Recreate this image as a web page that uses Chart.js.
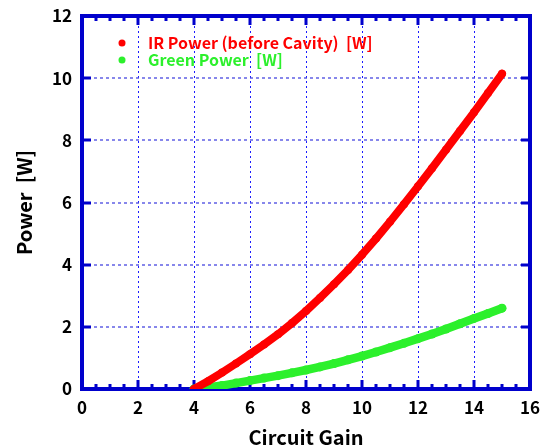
<!DOCTYPE html>
<html>
<head>
<meta charset="utf-8">
<script src="https://cdn.jsdelivr.net/npm/chart.js@4.4.1/dist/chart.umd.min.js"></script>
<style>
html,body{margin:0;padding:0;background:#fff;}
canvas{display:block;}
</style>
</head>
<body>
<canvas id="c" width="544" height="447"></canvas>
<script>
const gain = [4,4.5,5,5.5,6,6.5,7,7.5,8,8.5,9,9.5,10,10.5,11,11.5,12,12.5,13,13.5,14,14.5,15];
const irPower = [0,0.25,0.53,0.82,1.12,1.43,1.76,2.12,2.51,2.93,3.37,3.83,4.32,4.84,5.38,5.94,6.52,7.1,7.7,8.3,8.9,9.52,10.14];
const greenPower = [0,0.05,0.11,0.19,0.27,0.35,0.43,0.52,0.61,0.71,0.82,0.94,1.06,1.19,1.33,1.47,1.62,1.77,1.93,2.1,2.27,2.43,2.6];
const seriesLabels = ['IR Power (before Cavity)  [W]', 'Green Power  [W]'];
const seriesColors = ['#ff0000', '#2cf02c'];
const xTickValues = [0,2,4,6,8,10,12,14,16];
const yTickValues = [0,2,4,6,8,10,12];
const xTitle = 'Circuit Gain';
const yTitle = 'Power  [W]';

const FONT = '"Noto Sans CJK JP", "Noto Sans", sans-serif';
const AXIS_BLUE = '#0000cc';

function pts(xs, ys){ return xs.map((x,i)=>({x:x, y:ys[i]})); }

const framePlugin = {
  id: 'frame',
  beforeDatasetsDraw(chart){
    const {ctx, chartArea:a, scales:{x, y}} = chart;
    ctx.save();
    ctx.fillStyle = AXIS_BLUE;
    for (let v = 0; v <= 16.0001; v += 0.5) {
      const px = Math.round(x.getPixelForValue(v));
      const major = Math.abs(v/2 - Math.round(v/2)) < 1e-6;
      const len = major ? 9 : 5;
      ctx.fillRect(px-1.5, a.bottom-len, 3, len);
      ctx.fillRect(px-1.5, a.top, 3, len);
    }
    yTickValues.forEach(v=>{
      const py = Math.round(y.getPixelForValue(v));
      ctx.fillRect(a.left, py-1.5, 9, 3);
      ctx.fillRect(a.right-9, py-1.5, 9, 3);
    });
    ctx.strokeStyle = AXIS_BLUE;
    ctx.lineWidth = 4;
    ctx.strokeRect(a.left, a.top, a.right-a.left, a.bottom-a.top);
    ctx.restore();
  },
  afterDraw(chart){
    const ctx = chart.ctx;
    ctx.save();
    ctx.font = 'bold 16px ' + FONT;
    ctx.textBaseline = 'middle';
    chart.data.datasets.forEach((ds,i)=>{
      const yy = 43 + i*17;
      ctx.fillStyle = ds.borderColor;
      ctx.beginPath();
      ctx.arc(122, yy, 3.5, 0, Math.PI*2);
      ctx.fill();
      ctx.fillText(ds.label, 148, yy);
    });
    ctx.restore();
  }
};

new Chart(document.getElementById('c'), {
  type: 'scatter',
  data: {
    datasets: [
      {label: seriesLabels[0], data: pts(gain, irPower), borderColor: seriesColors[0], backgroundColor: seriesColors[0],
       showLine: true, borderWidth: 8, pointRadius: 4, pointHoverRadius: 4, borderCapStyle: 'round', borderJoinStyle: 'round', pointBorderWidth: 0},
      {label: seriesLabels[1], data: pts(gain, greenPower), borderColor: seriesColors[1], backgroundColor: seriesColors[1],
       showLine: true, borderWidth: 8.5, pointRadius: 4.5, pointHoverRadius: 4.5, borderCapStyle: 'round', borderJoinStyle: 'round', pointBorderWidth: 0}
    ]
  },
  options: {
    responsive: false,
    animation: false,
    events: [],
    layout: {padding: {top: 16, right: 14, left: 0, bottom: 0}},
    plugins: {legend: {display: false}, tooltip: {enabled: false}},
    scales: {
      x: {
        type: 'linear', min: 0, max: 16,
        afterBuildTicks: s => { s.ticks = xTickValues.map(v=>({value:v})); },
        afterFit: s => { s.height = 58; s.paddingLeft = 0; s.paddingRight = 0; },
        ticks: {color: '#000', font: {family: FONT, size: 17, weight: 'bold'}, padding: 8},
        grid: {drawTicks: false, lineWidth: 1,
               color: c => (c.tick && (c.tick.value === 0 || c.tick.value === 16)) ? 'rgba(0,0,0,0)' : '#1a1aff'},
        border: {display: false, dash: [2,3]},
        title: {display: true, text: xTitle, color: '#000', font: {family: FONT, size: 20, weight: 'bold', lineHeight: 1}, padding: {top: 0, bottom: 0}}
      },
      y: {
        type: 'linear', min: 0, max: 12,
        afterBuildTicks: s => { s.ticks = yTickValues.map(v=>({value:v})); },
        afterFit: s => { s.width = 82; s.paddingTop = 0; s.paddingBottom = 0; },
        ticks: {color: '#000', font: {family: FONT, size: 17, weight: 'bold'}, padding: 10},
        grid: {drawTicks: false, lineWidth: 2,
               color: c => (c.tick && (c.tick.value === 0 || c.tick.value === 12)) ? 'rgba(0,0,0,0)' : 'rgba(70,70,225,0.65)'},
        border: {display: false, dash: [3,3]},
        title: {display: true, text: yTitle, color: '#000', font: {family: FONT, size: 20, weight: 'bold', lineHeight: 1}, padding: {top: 14, bottom: 0}}
      }
    }
  },
  plugins: [framePlugin]
});
</script>
</body>
</html>
